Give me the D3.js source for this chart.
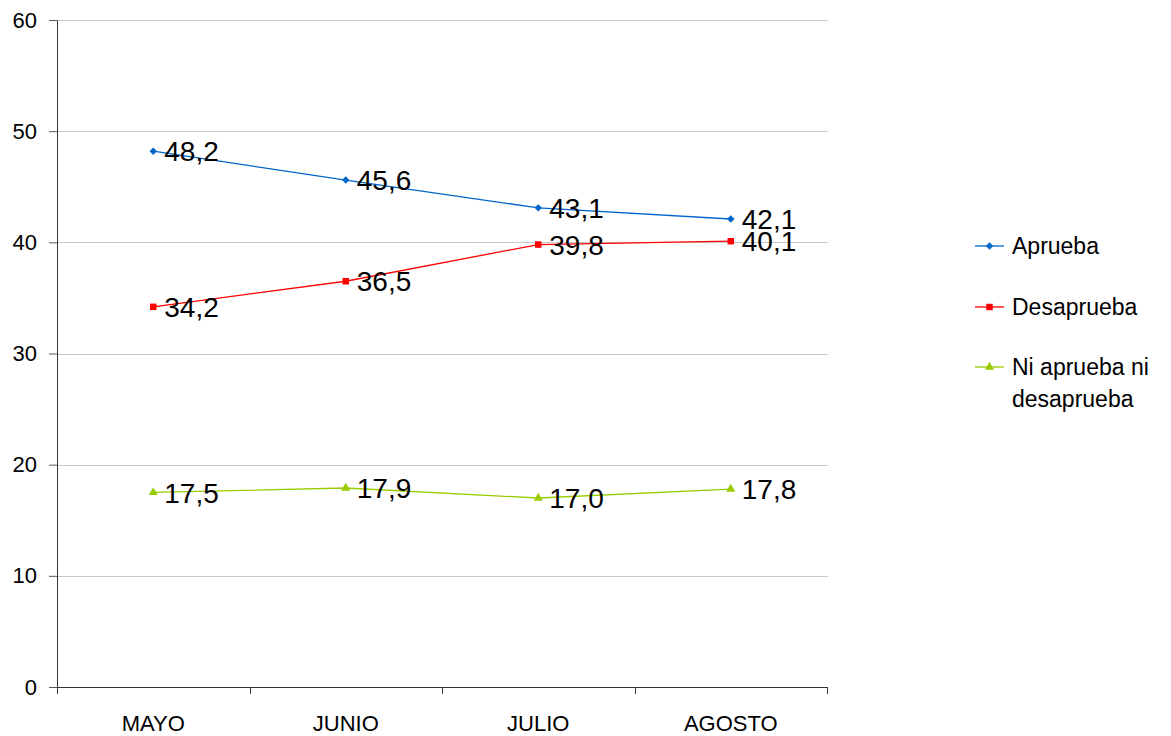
<!DOCTYPE html>
<html>
<head>
<meta charset="utf-8">
<script src="https://cdn.jsdelivr.net/npm/d3@7"></script>
<style>
  body { margin: 0; background: #fff; }
  text { font-family: Arial, "Liberation Sans", sans-serif; fill: #000; }
</style>
</head>
<body>
<div id="chart-container"></div>
<script>
// data
const months = ['MAYO', 'JUNIO', 'JULIO', 'AGOSTO'];
const aprueba = [48.2, 45.6, 43.1, 42.1];
const desaprueba = [34.2, 36.5, 39.8, 40.1];
const niNi = [17.5, 17.9, 17.0, 17.8];
const seriesNames = ['Aprueba', 'Desaprueba', 'Ni aprueba ni desaprueba'];
const yTicks = [0, 10, 20, 30, 40, 50, 60];

// diamond = square turned 45 degrees
const series = [
  {name: seriesNames[0], values: aprueba, color: '#0066CC', symbol: d3.symbolSquare, size: 28, rotate: 45},
  {name: seriesNames[1], values: desaprueba, color: '#FF0000', symbol: d3.symbolSquare, size: 42, rotate: 0},
  {name: seriesNames[2], values: niNi, color: '#99CC00', symbol: d3.symbolTriangle, size: 36, rotate: 0},
];

const W = 1171;
const H = 736;
const margin = {top: 20, right: 344, bottom: 49, left: 57};
const width = W - margin.left - margin.right;
const height = H - margin.top - margin.bottom;

const svg = d3.select('#chart-container')
    .append('svg')
    .attr('width', W)
    .attr('height', H);

const g = svg.append('g')
    .attr('transform', `translate(${margin.left}, ${margin.top})`);

const x = d3.scaleBand()
    .domain(months)
    .range([0, width]);

const y = d3.scaleLinear()
    .domain([0, 60])
    .range([height, 0]);

// gridlines
g.append('g')
    .selectAll('line')
    .data(yTicks.filter((d) => d > 0))
    .enter()
    .append('line')
    .attr('x1', 0)
    .attr('x2', width + 1)
    .attr('y1', (d) => Math.round(y(d)) + 0.5)
    .attr('y2', (d) => Math.round(y(d)) + 0.5)
    .attr('stroke', '#c8c8c8')
    .attr('stroke-width', 1);

// y axis
const yAxis = g.append('g')
    .call(d3.axisLeft(y).tickValues(yTicks).tickSize(8).tickPadding(12).tickSizeOuter(0));
yAxis.select('.domain').attr('stroke', '#333');
yAxis.selectAll('line').attr('stroke', '#555');
yAxis.selectAll('text')
    .attr('font-size', '22px')
    .style('font-family', 'Arial, "Liberation Sans", sans-serif');

// x axis with ticks at category boundaries
const xAxis = g.append('g')
    .attr('transform', `translate(0, ${height})`);
xAxis.append('line')
    .attr('x1', 0)
    .attr('x2', width)
    .attr('y1', 0.5)
    .attr('y2', 0.5)
    .attr('stroke', '#333');
xAxis.selectAll('.tick-mark')
    .data(months.concat(['end']))
    .enter()
    .append('line')
    .attr('class', 'tick-mark')
    .attr('x1', (d, i) => Math.round(i < months.length ? x(d) : width) + 0.5)
    .attr('x2', (d, i) => Math.round(i < months.length ? x(d) : width) + 0.5)
    .attr('y1', 0)
    .attr('y2', 7)
    .attr('stroke', '#333');
xAxis.selectAll('.tick-label')
    .data(months)
    .enter()
    .append('text')
    .attr('class', 'tick-label')
    .attr('x', (d) => x(d) + x.bandwidth() / 2)
    .attr('y', 36)
    .attr('dy', '0.36em')
    .attr('text-anchor', 'middle')
    .attr('font-size', '22px')
    .text((d) => d);

const cx = (i) => x(months[i]) + x.bandwidth() / 2;

const line = d3.line()
    .x((d, i) => cx(i))
    .y((d) => y(d));

series.forEach(function(s) {
  g.append('path')
      .datum(s.values)
      .attr('d', line)
      .attr('fill', 'none')
      .attr('stroke', s.color)
      .attr('stroke-width', 1.3);

  g.selectAll(null)
      .data(s.values)
      .enter()
      .append('path')
      .attr('d', d3.symbol().type(s.symbol).size(s.size))
      .attr('transform', (d, i) => `translate(${cx(i)}, ${y(d)}) rotate(${s.rotate})`)
      .attr('fill', s.color);

  g.selectAll(null)
      .data(s.values)
      .enter()
      .append('text')
      .attr('x', (d, i) => cx(i) + 11)
      .attr('y', (d) => y(d))
      .attr('dy', '0.36em')
      .attr('font-size', '28px')
      .text((d) => d.toFixed(1).replace('.', ','));
});

// legend
const legend = svg.append('g')
    .attr('transform', 'translate(975, 0)');
const rowsY = [246, 307, 367];
series.forEach(function(s, i) {
  const row = legend.append('g')
      .attr('transform', `translate(0, ${rowsY[i]})`);
  row.append('line')
      .attr('x1', 0)
      .attr('x2', 29)
      .attr('y1', 0)
      .attr('y2', 0)
      .attr('stroke', s.color)
      .attr('stroke-width', 1.3);
  row.append('path')
      .attr('d', d3.symbol().type(s.symbol).size(s.size))
      .attr('transform', `translate(14.5, 0) rotate(${s.rotate})`)
      .attr('fill', s.color);
  const words = i === 2 ? ['Ni aprueba ni', 'desaprueba'] : [s.name];
  const t = row.append('text')
      .attr('x', 37)
      .attr('y', 0)
      .attr('font-size', '23px');
  words.forEach(function(w, j) {
    t.append('tspan')
        .attr('x', 37)
        .attr('dy', j === 0 ? '0.36em' : '1.36em')
        .text(w);
  });
});
</script>
</body>
</html>
